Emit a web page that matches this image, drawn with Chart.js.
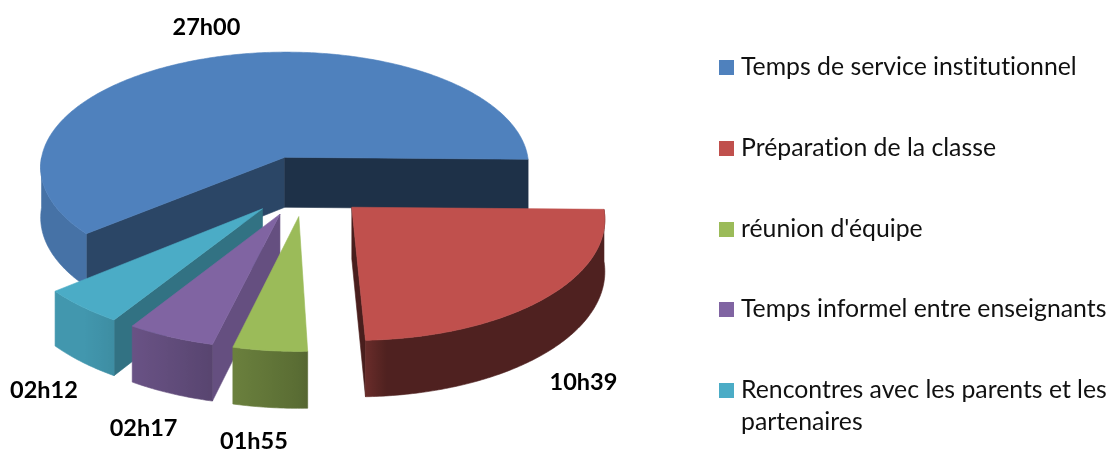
<!DOCTYPE html>
<html lang="fr">
<head>
<meta charset="utf-8">
<title>Temps de travail</title>
<script src="https://cdn.jsdelivr.net/npm/chart.js@4"></script>
<style>
  html, body { margin: 0; padding: 0; background: #fff; }
  #wrap { position: relative; width: 1113px; height: 450px; overflow: hidden; }
  #legend { position: absolute; left: 719px; top: 50px; width: 394px; font-family: Lato, sans-serif; font-size: 24.8px; line-height: 32px; color: #111; font-variant-ligatures: none; }
  .row { position: relative; height: 80.75px; padding-left: 22px; box-sizing: border-box; }
  .box { position: absolute; left: 0; top: 10px; width: 15px; height: 15px; }
</style>
</head>
<body>
<div id="wrap">
  <canvas id="myChart" width="1113" height="450"></canvas>
  <div id="legend"></div>
</div>
<script>
const categories = [
  "Temps de service institutionnel",
  "Préparation de la classe",
  "réunion d'équipe",
  "Temps informel entre enseignants",
  "Rencontres avec les parents et les partenaires"
];
const minutes = [1620, 639, 115, 137, 132];
const durationLabels = ["27h00", "10h39", "01h55", "02h17", "02h12"];
const colors = ["#4F81BD", "#C0504D", "#9BBB59", "#8064A2", "#4BACC6"];

// 3D look of the old office pie
const TILT = 0.477;
const VIEW_DIST = 3000;
const DEPTH = 51;
const labelNudge = [[-5, -30], [38, 84], [-16, 91], [-27, 91], [-38, 84]];
const drawOrder = [0, 4, 3, 2, 1];

function shade(hex, f) {
  const n = parseInt(hex.slice(1), 16);
  const c = [n >> 16, (n >> 8) & 255, n & 255].map(v => Math.round(v * f));
  return `rgb(${c[0]},${c[1]},${c[2]})`;
}

function rimShade(nx) {
  const f = nx < 0 ? 0.58 - 0.45 * nx : 0.58 - nx;
  return Math.min(0.88, Math.max(0.41, f));
}

function sideShade(normalDeg) {
  const f = 0.8 - (normalDeg - 102) * 0.0068;
  return Math.min(0.85, Math.max(0.38, f));
}

function fillPoly(ctx, pts, color) {
  ctx.beginPath();
  pts.forEach((p, i) => i ? ctx.lineTo(p[0], p[1]) : ctx.moveTo(p[0], p[1]));
  ctx.closePath();
  ctx.fillStyle = color;
  ctx.strokeStyle = color;
  ctx.lineWidth = 0.6;
  ctx.fill();
  ctx.stroke();
}

function sliceGeometry(arc) {
  const {x, y, startAngle, endAngle, outerRadius} = arc.getProps(["x", "y", "startAngle", "endAngle", "outerRadius"], true);
  const mid = (startAngle + endAngle) / 2;
  const off = arc.options.offset || 0;
  const u0 = Math.cos(mid) * off;
  const v0 = Math.sin(mid) * off;
  const project = (u, v, h) => {
    const w = 1 - v / VIEW_DIST;
    return [x + u / w, y + (TILT * v + h) / w];
  };
  const rimPoint = (a, h) => project(u0 + Math.cos(a) * outerRadius, v0 + Math.sin(a) * outerRadius, h);
  return {startAngle, endAngle, mid, u0, v0, project, rimPoint};
}

function signedArea(q) {
  let area = 0;
  q.forEach((p, i) => {
    const n = q[(i + 1) % q.length];
    area += p[0] * n[1] - n[0] * p[1];
  });
  return area;
}

function toDeg(a) {
  return ((a * 180 / Math.PI) % 360 + 360) % 360;
}

function drawRim(ctx, g, base, steps) {
  // only the part of the rim that faces the viewer
  const angles = [];
  for (let i = 0; i <= steps * 2; i++) {
    const a = g.startAngle + (g.endAngle - g.startAngle) * i / (steps * 2);
    if (Math.sin(a) >= 0 && angles.length === 0 || Math.sin(a) >= 0 && a - angles[angles.length - 1] < 0.2) angles.push(a);
  }
  if (angles.length < 2) return;
  const upper = angles.map(a => g.rimPoint(a, 0));
  const lower = angles.map(a => g.rimPoint(a, DEPTH)).reverse();
  const x0 = upper[0][0], x1 = upper[upper.length - 1][0];
  const grad = ctx.createLinearGradient(x0, 0, x1, 0);
  angles.forEach((a, i) => grad.addColorStop(i / (angles.length - 1), shade(base, rimShade(Math.cos(a)))));
  fillPoly(ctx, upper.concat(lower), grad);
}

function drawSlice(ctx, arc) {
  const g = sliceGeometry(arc);
  const base = arc.options.backgroundColor;
  const apexTop = g.project(g.u0, g.v0, 0);
  const apexBot = g.project(g.u0, g.v0, DEPTH);
  const steps = Math.max(6, Math.round((g.endAngle - g.startAngle) * 40));

  // flat side at the start of the slice
  const s1 = g.rimPoint(g.startAngle, 0), s2 = g.rimPoint(g.startAngle, DEPTH);
  if (signedArea([apexTop, s1, s2, apexBot]) < 0) fillPoly(ctx, [apexTop, s1, s2, apexBot], shade(base, sideShade(toDeg(g.startAngle))));

  // flat side at the end of the slice
  const e1 = g.rimPoint(g.endAngle, 0), e2 = g.rimPoint(g.endAngle, DEPTH);
  if (signedArea([apexTop, e1, e2, apexBot]) > 0) fillPoly(ctx, [apexTop, e1, e2, apexBot], shade(base, sideShade(toDeg(g.endAngle + Math.PI))));

  drawRim(ctx, g, base, steps);

  // top face
  const top = [apexTop];
  for (let i = 0; i <= steps * 2; i++) {
    top.push(g.rimPoint(g.startAngle + (g.endAngle - g.startAngle) * i / (steps * 2), 0));
  }
  fillPoly(ctx, top, base);
}

const pie3d = {
  id: "pie3d",
  beforeDatasetDraw(chart) {
    const ctx = chart.ctx;
    const arcs = chart.getDatasetMeta(0).data;
    ctx.save();
    drawOrder.forEach(i => drawSlice(ctx, arcs[i]));
    ctx.restore();
    return false;
  },
  afterDatasetsDraw(chart) {
    const ctx = chart.ctx;
    const arcs = chart.getDatasetMeta(0).data;
    ctx.save();
    ctx.font = "bold 23.5px Lato, sans-serif";
    ctx.fillStyle = "#000";
    ctx.textAlign = "center";
    ctx.textBaseline = "middle";
    arcs.forEach((arc, i) => {
      const g = sliceGeometry(arc);
      const p = g.rimPoint(g.mid, 0);
      ctx.fillText(durationLabels[i], p[0] + labelNudge[i][0], p[1] + labelNudge[i][1]);
    });
    ctx.restore();
  }
};

new Chart(document.getElementById("myChart"), {
  type: "pie",
  data: {
    labels: categories,
    datasets: [{
      data: minutes,
      backgroundColor: colors,
      borderWidth: 0,
      offset: 64
    }]
  },
  options: {
    responsive: false,
    animation: false,
    rotation: -129.66,
    radius: 248,
    layout: {padding: {left: 0, top: 0, right: 502, bottom: 79}},
    plugins: {legend: {display: false}, tooltip: {enabled: false}}
  },
  plugins: [pie3d]
});

const legend = document.getElementById("legend");
categories.forEach((name, i) => {
  const row = document.createElement("div");
  row.className = "row";
  const box = document.createElement("span");
  box.className = "box";
  box.style.background = colors[i];
  row.appendChild(box);
  row.appendChild(document.createTextNode(name));
  legend.appendChild(row);
});
</script>
</body>
</html>
